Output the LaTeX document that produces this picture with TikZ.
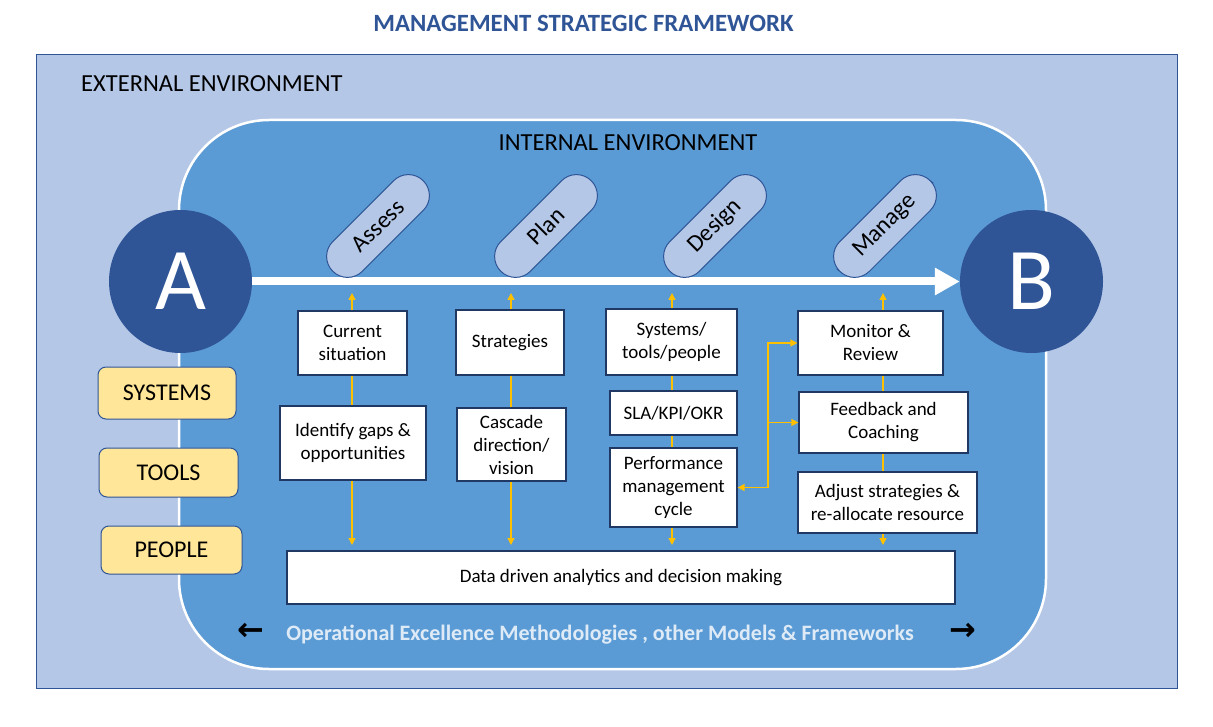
\documentclass[tikz,border=0pt]{standalone}
\usepackage{fontspec}
\setmainfont{Carlito}
\newfontfamily\arrowfont{DejaVu Sans}
\usetikzlibrary{positioning,arrows.meta}

\definecolor{outerblue}{HTML}{B4C7E7}
\definecolor{innerblue}{HTML}{5B9BD5}
\definecolor{darkblue}{HTML}{2F5597}
\definecolor{navy}{HTML}{1F3864}
\definecolor{boxyellow}{HTML}{FFE699}
\definecolor{lineorange}{HTML}{FFC000}
\definecolor{paleblue}{HTML}{DEEBF7}

\tikzset{
  stepbox/.style={draw=navy, line width=1.2pt, fill=white, inner sep=0pt, align=center,
    font=\fontsize{19}{23}\selectfont},
  pill/.style={draw=darkblue, line width=1pt, fill=outerblue, rounded corners=21pt,
    minimum width=128pt, minimum height=42pt, inner sep=0pt, rotate=45,
    font=\fontsize{24}{28}\selectfont},
  tag/.style={draw=darkblue, line width=1pt, fill=boxyellow, rounded corners=8pt,
    inner sep=0pt, font=\fontsize{24}{28}\selectfont},
  endpoint/.style={circle, fill=darkblue, minimum size=143pt, inner sep=0pt,
    text=white, font=\fontsize{88}{100}\selectfont},
  oline/.style={draw=lineorange, line width=1.3pt},
  otip/.style={-{Triangle[length=7pt,width=7pt]}}
}

\begin{document}
\begin{tikzpicture}[x=1pt,y=-1pt]
\useasboundingbox (0,0) rectangle (1213,727);
% Title
\node[font=\bfseries\fontsize{24.8}{29}\selectfont, text=darkblue] (title) at (583.5,23) {MANAGEMENT STRATEGIC FRAMEWORK};
% External and internal environment
\fill[outerblue, draw=darkblue, line width=1pt] (36,55) rectangle (1177,688);
\node[anchor=west, inner sep=0pt, font=\fontsize{24.5}{29}\selectfont] (external) at (81,84) {EXTERNAL ENVIRONMENT};
\fill[innerblue, draw=white, line width=2.5pt, rounded corners=90pt] (179,120) rectangle (1046,669);
\node[inner sep=0pt, font=\fontsize{24.5}{29}\selectfont] (internal) at (628,143) {INTERNAL ENVIRONMENT};
% Start and end points
\node[endpoint] (A) at (180.5,281.5) {A};
\node[endpoint] (B) at (1031.5,281.5) {B};
\draw[white, line width=8pt, -{Triangle[length=25pt,width=26pt]}] (A) -- (B);
% Phases
\node[pill] (assess) at (378,226) {Assess};
\node[pill] (plan) at (546,226) {Plan};
\node[pill] (design) at (715,226) {Design};
\node[pill] (manage) at (885,226) {Manage};
% Systems, tools, people
\node[tag, minimum width=138pt, minimum height=52pt] (systems) at (167,393) {SYSTEMS};
\node[tag, minimum width=139pt, minimum height=49pt] (tools) at (168.5,472.5) {TOOLS};
\node[tag, minimum width=141pt, minimum height=48pt] (people) at (171.5,550) {PEOPLE};
% Boxes
\node[stepbox, minimum width=109pt, minimum height=64pt] (current) at (352.5,343) {Current\\situation};
\node[stepbox, minimum width=146pt, minimum height=74pt] (gaps) at (353,443) {Identify gaps \&\\opportunities};
\node[stepbox, minimum width=108pt, minimum height=65pt] (strategies) at (510,342.5) {Strategies};
\node[stepbox, minimum width=109pt, minimum height=73pt] (cascade) at (511.5,444.5) {Cascade\\direction/\\vision};
\node[stepbox, minimum width=131pt, minimum height=66pt] (systools) at (671.5,342) {Systems/\\tools/people};
\node[stepbox, minimum width=127pt, minimum height=44pt] (sla) at (673.5,413) {SLA/KPI/OKR};
\node[stepbox, minimum width=127pt, minimum height=79pt] (perf) at (673.5,487.5) {Performance\\management\\cycle};
\node[stepbox, minimum width=145pt, minimum height=64pt] (monitor) at (870.5,343) {Monitor \&\\Review};
\node[stepbox, minimum width=169pt, minimum height=61pt] (feedback) at (883.5,422.5) {Feedback and\\Coaching};
\node[stepbox, minimum width=179pt, minimum height=61pt] (adjust) at (887.5,502.5) {Adjust strategies \&\\re-allocate resource};
\node[stepbox, minimum width=668pt, minimum height=53pt] (data) at (621,577.5) {Data driven analytics and decision making};
% Orange connectors
\coordinate (top1) at (352,293);  \coordinate (bot1) at (352,545);
\coordinate (top2) at (511,293);  \coordinate (bot2) at (511,545);
\coordinate (top3) at (672,293);  \coordinate (bot3) at (672,545);
\coordinate (top4) at (883,293);  \coordinate (bot4) at (883,545);
\draw[oline, otip] (top1 |- current.north) -- (top1);
\draw[oline] (current.south -| top1) -- (gaps.north -| top1);
\draw[oline, otip] (gaps.south -| top1) -- (bot1);
\draw[oline, otip] (top2 |- strategies.north) -- (top2);
\draw[oline] (strategies.south -| top2) -- (cascade.north -| top2);
\draw[oline, otip] (cascade.south -| top2) -- (bot2);
\draw[oline, otip] (top3 |- systools.north) -- (top3);
\draw[oline] (systools.south -| top3) -- (sla.north -| top3);
\draw[oline] (sla.south -| top3) -- (perf.north -| top3);
\draw[oline, otip] (perf.south -| top3) -- (bot3);
\draw[oline, otip] (top4 |- monitor.north) -- (top4);
\draw[oline] (monitor.south -| top4) -- (feedback.north -| top4);
\draw[oline] (feedback.south -| top4) -- (adjust.north -| top4);
\draw[oline, otip] (adjust.south -| top4) -- (bot4);
% Feedback loop
\coordinate (fork) at (768,422.5);
\draw[oline, {Triangle[length=7pt,width=7pt]}-{Triangle[length=7pt,width=7pt]}] (perf.east) -| (fork |- monitor.west) -- (monitor.west);
\draw[oline, otip] (fork |- feedback.west) -- (feedback.west);
% Methodologies
\node[font=\bfseries\fontsize{22}{26}\selectfont, text=paleblue] (methods) at (600,635) {Operational Excellence Methodologies , other Models \& Frameworks};
\node[font=\arrowfont\bfseries\fontsize{32}{36}\selectfont, inner sep=0pt] (larrow) at (251,632) {←};
\node[font=\arrowfont\bfseries\fontsize{32}{36}\selectfont, inner sep=0pt] (rarrow) at (963,632) {→};
\end{tikzpicture}
\end{document}
